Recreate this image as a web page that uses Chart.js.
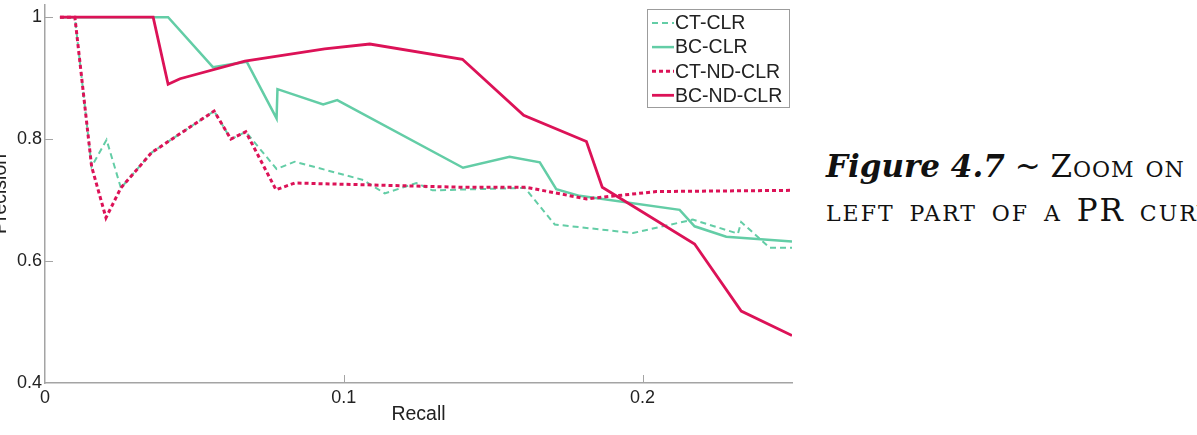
<!DOCTYPE html>
<html><head><meta charset="utf-8">
<script src="https://cdn.jsdelivr.net/npm/chart.js@4.4.1/dist/chart.umd.min.js"></script>
<style>
html,body{margin:0;padding:0;background:#fff;width:1197px;height:435px;overflow:hidden;position:relative;}
#wrap{position:absolute;left:0;top:0;width:800px;height:435px;}
#cap{position:absolute;left:826px;top:144px;font-family:"DejaVu Serif",serif;font-size:31px;line-height:44px;white-space:nowrap;color:#111;}
#cap .r1 .sc{letter-spacing:1px;}
#cap .r2{word-spacing:3px;letter-spacing:2px;}
.sc{font-variant:small-caps;}
</style></head><body>
<div id="wrap"><canvas id="c" width="800" height="435"></canvas></div>
<div id="cap"><div class="r1"><b><i>Figure 4.7</i></b> ~ <span class="sc">Zoom on</span></div><div class="r2"><span class="sc">left part of a</span> PR <span class="sc">curve</span></div></div>
<script>
// ---- data ----
const ctClrRecall    = [0.005,0.010,0.0156,0.0206,0.0254,0.0357,0.0566,0.0622,0.0672,0.0775,0.0836,0.1065,0.1137,0.1243,0.1297,0.1606,0.1706,0.1968,0.2168,0.2319,0.2330,0.2425,0.2500];
const ctClrPrecision = [1,1,0.755,0.799,0.720,0.778,0.846,0.800,0.812,0.751,0.763,0.733,0.711,0.728,0.716,0.720,0.660,0.646,0.668,0.645,0.664,0.622,0.622];

const bcClrRecall    = [0.005,0.0412,0.0562,0.0675,0.0775,0.0778,0.0931,0.0978,0.1399,0.1555,0.1656,0.1711,0.1789,0.2124,0.2174,0.2280,0.2500];
const bcClrPrecision = [1,1,0.918,0.927,0.834,0.882,0.857,0.864,0.753,0.771,0.762,0.718,0.707,0.684,0.657,0.640,0.632];

const ctNdClrRecall    = [0.005,0.010,0.0156,0.0204,0.0254,0.0357,0.0566,0.0622,0.0672,0.0773,0.0836,0.1400,0.1610,0.1812,0.2046,0.2500];
const ctNdClrPrecision = [1,1,0.755,0.671,0.720,0.778,0.846,0.800,0.812,0.717,0.728,0.721,0.721,0.702,0.714,0.716];

const bcNdClrRecall    = [0.005,0.0362,0.0412,0.0452,0.0669,0.0936,0.1087,0.1397,0.1602,0.1812,0.1865,0.2174,0.2330,0.2500];
const bcNdClrPrecision = [1,1,0.890,0.899,0.928,0.948,0.956,0.931,0.839,0.796,0.721,0.628,0.518,0.478];

const seriesLabels = ['CT-CLR','BC-CLR','CT-ND-CLR','BC-ND-CLR'];
const xTicks = [0, 0.1, 0.2];
const xTickLabels = ['0','0.1','0.2'];
const yTicks = [0.4, 0.6, 0.8, 1];
const yTickLabels = ['0.4','0.6','0.8','1'];

// ---- styles ----
const GREEN = '#63cda6';
const RED = '#dc1257';
const AXIS = '#a4a4a4';
const TXT = '#222222';
const FONT = '"Liberation Sans", Arial, sans-serif';

function pts(xs, ys){ return xs.map((x,i)=>({x:x, y:ys[i]})); }
function noPad(s){ s.paddingTop = 0; s.paddingBottom = 0; s.paddingLeft = 0; s.paddingRight = 0; }

const innerTicks = {
  id:'innerTicks',
  afterDraw(chart){
    const {ctx, chartArea:a, scales:{x, y}} = chart;
    ctx.save();
    ctx.strokeStyle = AXIS; ctx.lineWidth = 1;
    xTicks.forEach(v=>{ if(v===xTicks[0]) return; const px=Math.round(x.getPixelForValue(v))+0.5; ctx.beginPath(); ctx.moveTo(px,a.bottom); ctx.lineTo(px,a.bottom-8); ctx.stroke(); });
    yTicks.forEach(v=>{ if(v===yTicks[0]) return; const py=Math.round(y.getPixelForValue(v))+0.5; ctx.beginPath(); ctx.moveTo(a.left,py); ctx.lineTo(a.left+8,py); ctx.stroke(); });
    ctx.restore();
  }
};

const boxLegend = {
  id:'boxLegend',
  afterDatasetsDraw(chart){
    const {ctx, chartArea:a} = chart;
    const w = 142, h = 98;
    const x0 = a.right - 3 - w, y0 = 9;
    ctx.save();
    ctx.fillStyle = '#fff'; ctx.fillRect(x0, y0, w, h);
    ctx.strokeStyle = '#9c9c9c'; ctx.lineWidth = 1; ctx.strokeRect(x0+0.5, y0+0.5, w, h);
    chart.data.datasets.forEach((ds,i)=>{
      const cy = y0 + 14 + i*24.1;
      ctx.setLineDash(ds.borderDash || []);
      ctx.strokeStyle = ds.borderColor; ctx.lineWidth = ds.borderWidth;
      ctx.beginPath(); ctx.moveTo(x0+5, cy); ctx.lineTo(x0+27, cy); ctx.stroke();
      ctx.setLineDash([]);
      ctx.fillStyle = TXT; ctx.font = '19.5px ' + FONT;
      ctx.textBaseline = 'middle'; ctx.textAlign = 'left';
      ctx.fillText(ds.label, x0+28, cy+1);
    });
    ctx.restore();
  }
};

new Chart(document.getElementById('c'), {
  type:'line',
  data:{ datasets:[
    {label:seriesLabels[0], data:pts(ctClrRecall, ctClrPrecision), borderColor:GREEN, borderWidth:2, borderDash:[6,4], order:3},
    {label:seriesLabels[1], data:pts(bcClrRecall, bcClrPrecision), borderColor:GREEN, borderWidth:2.5, order:2},
    {label:seriesLabels[2], data:pts(ctNdClrRecall, ctNdClrPrecision), borderColor:RED, borderWidth:3, borderDash:[4,3], order:1},
    {label:seriesLabels[3], data:pts(bcNdClrRecall, bcNdClrPrecision), borderColor:RED, borderWidth:2.8, order:0}
  ]},
  options:{
    responsive:false, animation:false, devicePixelRatio:1,
    layout:{padding:{top:5, right:8, left:0, bottom:0}},
    elements:{point:{radius:0, hoverRadius:0}, line:{tension:0, fill:false, borderCapStyle:'butt', borderJoinStyle:'miter'}},
    plugins:{legend:{display:false}, tooltip:{enabled:false}},
    scales:{
      x:{ type:'linear', min:0, max:0.25,
        grid:{display:false, drawTicks:false},
        border:{display:true, color:AXIS, width:1.5},
        ticks:{color:TXT, font:{family:FONT, size:18}, padding:4, maxRotation:0, autoSkip:false,
          callback:(v)=>{ const i=xTicks.indexOf(v); return i<0?'':xTickLabels[i]; }},
        title:{display:true, text:'Recall', color:TXT, font:{family:FONT, size:19.5}, padding:{top:0, bottom:9}},
        afterBuildTicks:(s)=>{ s.ticks = xTicks.map(v=>({value:v})); },
        afterFit:(s)=>{ s.height = 52; noPad(s); }
      },
      y:{ type:'linear', min:0.4, max:1.02,
        grid:{display:false, drawTicks:false},
        border:{display:true, color:AXIS, width:1.5},
        ticks:{color:TXT, font:{family:FONT, size:18}, padding:3, autoSkip:false,
          callback:(v)=>{ const i=yTicks.indexOf(v); return i<0?'':yTickLabels[i]; }},
        title:{display:true, text:'Precision', color:TXT, font:{family:FONT, size:19.5}, padding:{top:-11, bottom:0}},
        afterBuildTicks:(s)=>{ s.ticks = yTicks.map(v=>({value:v})); },
        afterFit:(s)=>{ s.width = 45; noPad(s); }
      }
    }
  },
  plugins:[innerTicks, boxLegend]
});
</script>
</body></html>
